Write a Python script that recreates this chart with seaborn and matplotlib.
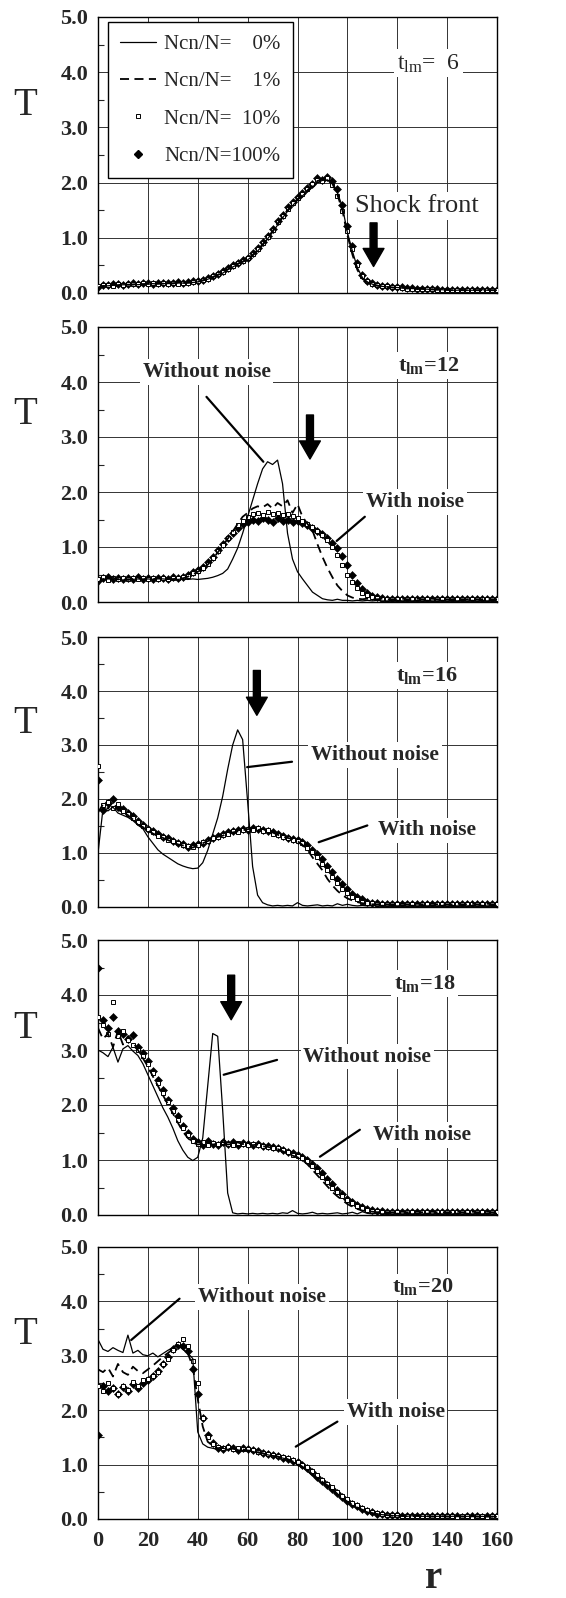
import numpy as np
import pandas as pd
import seaborn as sns
import matplotlib.pyplot as plt
from matplotlib.lines import Line2D

# radial positions (every 2 units) shared by all curves
R = list(range(0, 161, 2))

# ---- t_lm = 6 ----
T6_0 = [0.08,0.12,0.13,0.14,0.14,0.15,0.15,0.16,0.15,0.16,
        0.16,0.17,0.16,0.17,0.17,0.18,0.18,0.18,0.18,0.19,
        0.20,0.22,0.25,0.28,0.32,0.36,0.42,0.47,0.52,0.56,
        0.60,0.67,0.76,0.86,0.98,1.10,1.23,1.36,1.48,1.58,
        1.68,1.76,1.84,1.92,2.00,2.04,2.05,2.00,1.82,1.56,
        1.10,0.76,0.46,0.28,0.20,0.16,0.14,0.12,0.11,0.10,
        0.10,0.09,0.09,0.08,0.08,0.07,0.07,0.06,0.06,0.06,
        0.05,0.05,0.05,0.06,0.05,0.05,0.05,0.06,0.05,0.05,
        0.05]
T6_1 = [0.10,0.13,0.12,0.15,0.14,0.16,0.15,0.15,0.17,0.16,
        0.17,0.16,0.18,0.17,0.18,0.17,0.19,0.18,0.19,0.19,
        0.21,0.23,0.26,0.29,0.33,0.37,0.43,0.48,0.53,0.57,
        0.62,0.69,0.78,0.88,1.00,1.12,1.26,1.38,1.50,1.61,
        1.70,1.79,1.86,1.95,2.03,2.06,2.04,1.98,1.78,1.50,
        1.05,0.70,0.42,0.26,0.19,0.15,0.13,0.12,0.11,0.10,
        0.09,0.10,0.08,0.09,0.07,0.08,0.06,0.07,0.06,0.06,
        0.06,0.05,0.06,0.05,0.05,0.06,0.05,0.05,0.06,0.05,
        0.05]
T6_10 = [0.12,0.14,0.15,0.13,0.16,0.15,0.17,0.16,0.16,0.18,
         0.16,0.18,0.17,0.18,0.16,0.19,0.17,0.19,0.18,0.20,
         0.21,0.24,0.26,0.30,0.34,0.38,0.44,0.49,0.54,0.58,
         0.63,0.70,0.80,0.90,1.02,1.15,1.28,1.40,1.52,1.63,
         1.72,1.80,1.88,1.97,2.05,2.02,2.08,1.96,1.76,1.48,
         1.12,0.80,0.50,0.30,0.21,0.17,0.14,0.12,0.12,0.10,
         0.10,0.09,0.08,0.08,0.08,0.07,0.07,0.07,0.06,0.06,
         0.05,0.06,0.05,0.05,0.06,0.05,0.06,0.05,0.05,0.05,
         0.05]
T6_100 = [0.11,0.15,0.14,0.16,0.17,0.15,0.17,0.18,0.16,0.18,
          0.19,0.17,0.19,0.18,0.19,0.18,0.20,0.19,0.20,0.21,
          0.22,0.24,0.27,0.31,0.35,0.40,0.45,0.50,0.55,0.60,
          0.64,0.72,0.82,0.92,1.04,1.16,1.30,1.42,1.55,1.65,
          1.74,1.82,1.90,1.98,2.08,2.04,2.10,2.02,1.88,1.60,
          1.22,0.86,0.55,0.32,0.22,0.18,0.15,0.13,0.12,0.11,
          0.10,0.10,0.09,0.09,0.08,0.08,0.07,0.07,0.07,0.06,
          0.06,0.06,0.06,0.05,0.06,0.06,0.05,0.06,0.05,0.06,
          0.05]

# ---- t_lm = 12 ----
T12_0 = [0.30,0.40,0.42,0.41,0.42,0.40,0.42,0.41,0.42,0.41,
         0.42,0.41,0.42,0.42,0.41,0.42,0.41,0.42,0.41,0.42,
         0.41,0.42,0.43,0.45,0.48,0.52,0.60,0.78,0.98,1.25,
         1.55,1.85,2.15,2.42,2.55,2.50,2.58,2.15,1.25,0.78,
         0.55,0.42,0.30,0.18,0.12,0.06,0.04,0.03,0.05,0.03,
         0.03,0.02,0.03,0.02,0.03,0.02,0.03,0.02,0.02,0.03,
         0.03,0.02,0.03,0.02,0.03,0.02,0.03,0.02,0.02,0.03,
         0.02,0.03,0.02,0.03,0.02,0.03,0.02,0.03,0.02,0.03,
         0.02]
T12_1 = [0.35,0.42,0.40,0.44,0.41,0.43,0.40,0.42,0.44,0.41,
         0.43,0.41,0.44,0.42,0.43,0.41,0.44,0.43,0.46,0.50,
         0.55,0.60,0.68,0.78,0.90,1.02,1.15,1.28,1.42,1.55,
         1.62,1.70,1.74,1.72,1.78,1.70,1.80,1.74,1.85,1.62,
         1.78,1.55,1.42,1.30,1.05,0.82,0.62,0.45,0.30,0.20,
         0.12,0.08,0.06,0.05,0.06,0.05,0.05,0.06,0.05,0.05,
         0.05,0.06,0.05,0.05,0.06,0.05,0.05,0.06,0.05,0.05,
         0.05,0.05,0.06,0.05,0.05,0.06,0.05,0.05,0.06,0.05,
         0.05]
T12_10 = [0.42,0.45,0.40,0.43,0.42,0.44,0.41,0.43,0.42,0.44,
          0.42,0.43,0.41,0.44,0.42,0.43,0.44,0.45,0.48,0.52,
          0.56,0.62,0.70,0.80,0.92,1.04,1.16,1.28,1.40,1.48,
          1.55,1.60,1.62,1.58,1.64,1.60,1.62,1.58,1.60,1.56,
          1.52,1.48,1.42,1.36,1.30,1.22,1.12,1.00,0.85,0.68,
          0.50,0.36,0.25,0.17,0.12,0.09,0.07,0.06,0.06,0.05,
          0.06,0.05,0.06,0.05,0.05,0.06,0.05,0.06,0.05,0.05,
          0.05,0.06,0.05,0.05,0.06,0.05,0.05,0.06,0.05,0.05,
          0.05]
T12_100 = [0.40,0.43,0.45,0.42,0.44,0.41,0.43,0.42,0.45,0.42,
           0.43,0.42,0.44,0.43,0.42,0.45,0.44,0.46,0.50,0.54,
           0.58,0.64,0.72,0.82,0.94,1.05,1.16,1.26,1.35,1.42,
           1.46,1.50,1.48,1.52,1.50,1.46,1.52,1.48,1.50,1.46,
           1.48,1.44,1.40,1.35,1.30,1.24,1.16,1.08,0.98,0.84,
           0.68,0.50,0.35,0.24,0.16,0.11,0.09,0.07,0.06,0.06,
           0.06,0.05,0.06,0.06,0.05,0.06,0.05,0.05,0.06,0.05,
           0.05,0.06,0.05,0.06,0.05,0.05,0.06,0.05,0.05,0.06,
           0.05]

# ---- t_lm = 16 ----
T16_0 = [1.00,1.82,1.78,1.85,1.74,1.70,1.66,1.60,1.52,1.45,
         1.30,1.18,1.06,0.98,0.92,0.86,0.80,0.76,0.73,0.71,
         0.72,0.82,1.05,1.35,1.65,2.05,2.55,3.00,3.28,3.10,
         1.95,0.75,0.22,0.08,0.04,0.02,0.03,0.02,0.03,0.02,
         0.08,0.03,0.02,0.03,0.04,0.02,0.03,0.02,0.06,0.03,
         0.05,0.03,0.02,0.03,0.02,0.03,0.02,0.03,0.02,0.03,
         0.02,0.03,0.02,0.03,0.02,0.03,0.02,0.03,0.02,0.03,
         0.02,0.03,0.02,0.03,0.02,0.03,0.02,0.03,0.02,0.03,
         0.02]
T16_1 = [1.75,1.90,1.82,1.95,1.80,1.76,1.70,1.62,1.52,1.48,
         1.42,1.36,1.32,1.28,1.24,1.20,1.16,1.14,1.12,1.10,
         1.14,1.18,1.22,1.26,1.30,1.32,1.36,1.38,1.40,1.42,
         1.44,1.46,1.42,1.45,1.40,1.38,1.34,1.30,1.28,1.26,
         1.22,1.15,1.06,0.92,0.80,0.68,0.52,0.40,0.30,0.22,
         0.16,0.12,0.09,0.07,0.06,0.05,0.05,0.06,0.05,0.05,
         0.05,0.06,0.05,0.05,0.06,0.05,0.05,0.06,0.05,0.05,
         0.05,0.05,0.06,0.05,0.05,0.06,0.05,0.05,0.06,0.05,
         0.05]
T16_10 = [2.62,1.88,1.95,1.84,1.90,1.78,1.72,1.64,1.58,1.50,
          1.44,1.38,1.32,1.30,1.25,1.22,1.18,1.15,1.13,1.12,
          1.15,1.20,1.22,1.28,1.30,1.34,1.36,1.40,1.38,1.42,
          1.44,1.42,1.46,1.40,1.42,1.36,1.34,1.30,1.28,1.25,
          1.22,1.18,1.10,1.02,0.92,0.80,0.68,0.56,0.44,0.34,
          0.26,0.19,0.14,0.10,0.08,0.07,0.06,0.06,0.05,0.05,
          0.06,0.05,0.05,0.06,0.05,0.05,0.06,0.05,0.05,0.06,
          0.05,0.05,0.06,0.05,0.05,0.06,0.05,0.05,0.05,0.06,
          0.05]
T16_100 = [2.35,1.80,1.92,2.00,1.85,1.82,1.75,1.68,1.60,1.52,
           1.45,1.40,1.35,1.30,1.27,1.22,1.18,1.16,1.12,1.14,
           1.16,1.18,1.24,1.28,1.32,1.35,1.38,1.40,1.42,1.44,
           1.42,1.46,1.44,1.42,1.40,1.38,1.35,1.32,1.28,1.26,
           1.24,1.20,1.14,1.06,0.98,0.88,0.76,0.64,0.52,0.42,
           0.33,0.25,0.19,0.14,0.10,0.08,0.07,0.06,0.06,0.05,
           0.06,0.06,0.05,0.06,0.05,0.06,0.05,0.06,0.05,0.05,
           0.06,0.05,0.06,0.05,0.05,0.06,0.05,0.06,0.05,0.05,
           0.05]

# ---- t_lm = 18 ----
T18_0 = [3.00,2.95,2.88,3.05,2.78,3.02,3.08,2.98,2.90,2.75,
         2.55,2.35,2.15,1.95,1.78,1.58,1.35,1.18,1.05,0.99,
         1.05,1.40,2.35,3.30,3.25,1.90,0.40,0.04,0.02,0.03,
         0.02,0.03,0.02,0.03,0.02,0.03,0.02,0.04,0.03,0.08,
         0.03,0.02,0.03,0.05,0.02,0.03,0.02,0.03,0.04,0.02,
         0.03,0.05,0.02,0.06,0.03,0.02,0.03,0.02,0.03,0.02,
         0.03,0.02,0.03,0.02,0.03,0.02,0.03,0.02,0.03,0.02,
         0.03,0.02,0.03,0.02,0.03,0.02,0.03,0.02,0.03,0.02,
         0.03]
T18_1 = [3.40,3.20,3.30,3.05,3.35,3.10,3.25,3.15,3.00,2.85,
         2.70,2.52,2.35,2.18,2.02,1.85,1.68,1.52,1.40,1.32,
         1.28,1.30,1.32,1.28,1.30,1.33,1.28,1.30,1.32,1.29,
         1.30,1.27,1.28,1.25,1.24,1.22,1.20,1.16,1.12,1.08,
         1.05,1.00,0.92,0.82,0.72,0.62,0.52,0.42,0.34,0.27,
         0.20,0.15,0.11,0.08,0.07,0.06,0.05,0.06,0.05,0.05,
         0.05,0.06,0.05,0.05,0.06,0.05,0.05,0.06,0.05,0.05,
         0.05,0.05,0.06,0.05,0.05,0.06,0.05,0.05,0.06,0.05,
         0.05]
T18_10 = [3.60,3.45,3.30,3.88,3.25,3.35,3.18,3.10,3.00,2.90,
          2.75,2.58,2.40,2.22,2.06,1.90,1.72,1.58,1.45,1.35,
          1.30,1.32,1.28,1.31,1.29,1.32,1.30,1.28,1.31,1.30,
          1.28,1.30,1.27,1.26,1.24,1.22,1.21,1.18,1.14,1.10,
          1.08,1.04,0.98,0.90,0.80,0.70,0.60,0.50,0.41,0.34,
          0.27,0.21,0.16,0.12,0.10,0.08,0.07,0.06,0.06,0.05,
          0.06,0.05,0.05,0.06,0.05,0.05,0.06,0.05,0.05,0.06,
          0.05,0.05,0.06,0.05,0.05,0.06,0.05,0.05,0.05,0.06,
          0.05]
T18_100 = [4.50,3.55,3.40,3.60,3.35,3.30,3.20,3.28,3.05,2.95,
           2.80,2.62,2.45,2.28,2.10,1.95,1.80,1.62,1.50,1.38,
           1.32,1.28,1.34,1.30,1.27,1.32,1.30,1.33,1.28,1.31,
           1.30,1.28,1.30,1.26,1.25,1.24,1.22,1.19,1.15,1.12,
           1.10,1.06,1.00,0.93,0.85,0.76,0.66,0.56,0.46,0.38,
           0.30,0.24,0.18,0.14,0.11,0.09,0.08,0.07,0.06,0.06,
           0.06,0.06,0.05,0.06,0.05,0.06,0.05,0.06,0.05,0.05,
           0.06,0.05,0.06,0.05,0.05,0.06,0.05,0.06,0.05,0.05,
           0.05]

# ---- t_lm = 20 ----
T20_0 = [3.30,3.12,3.08,3.15,3.10,3.06,3.38,3.05,3.10,3.02,
         3.00,3.05,2.98,3.04,3.10,3.15,3.20,3.12,3.05,2.95,
         1.60,1.38,1.32,1.30,1.28,1.30,1.28,1.29,1.27,1.26,
         1.25,1.24,1.22,1.20,1.18,1.16,1.14,1.12,1.10,1.05,
         1.00,0.95,0.88,0.80,0.72,0.66,0.60,0.52,0.44,0.36,
         0.30,0.25,0.20,0.16,0.13,0.10,0.09,0.08,0.07,0.06,
         0.06,0.05,0.05,0.06,0.05,0.05,0.05,0.04,0.05,0.05,
         0.04,0.05,0.05,0.04,0.05,0.05,0.04,0.05,0.04,0.05,
         0.04]
T20_1 = [2.75,2.70,2.78,2.62,2.85,2.70,2.65,2.80,2.72,2.68,
         2.75,2.82,2.90,2.98,3.05,3.12,3.20,3.15,3.05,2.80,
         2.20,1.70,1.42,1.35,1.30,1.32,1.28,1.30,1.27,1.28,
         1.26,1.25,1.23,1.21,1.18,1.16,1.15,1.12,1.10,1.06,
         1.02,0.96,0.90,0.82,0.75,0.68,0.62,0.55,0.46,0.38,
         0.32,0.26,0.21,0.17,0.14,0.11,0.09,0.08,0.07,0.06,
         0.06,0.06,0.05,0.05,0.06,0.05,0.05,0.05,0.04,0.05,
         0.05,0.04,0.05,0.05,0.04,0.05,0.05,0.04,0.05,0.04,
         0.05]
T20_10 = [2.45,2.35,2.50,2.40,2.30,2.45,2.38,2.52,2.44,2.55,
          2.58,2.62,2.70,2.85,2.95,3.10,3.22,3.30,3.18,2.90,
          2.50,1.85,1.50,1.38,1.32,1.30,1.33,1.29,1.31,1.28,
          1.28,1.26,1.24,1.22,1.20,1.18,1.16,1.14,1.12,1.08,
          1.05,1.00,0.95,0.88,0.80,0.72,0.65,0.58,0.50,0.42,
          0.36,0.30,0.25,0.20,0.16,0.13,0.11,0.09,0.08,0.07,
          0.07,0.06,0.06,0.05,0.06,0.05,0.05,0.06,0.05,0.05,
          0.05,0.05,0.04,0.05,0.05,0.04,0.05,0.05,0.04,0.05,
          0.05]
T20_100 = [1.55,2.45,2.35,2.40,2.30,2.42,2.36,2.48,2.40,2.50,
           2.55,2.62,2.72,2.85,2.98,3.12,3.20,3.18,3.08,2.75,
           2.30,1.85,1.55,1.40,1.30,1.28,1.32,1.30,1.27,1.30,
           1.28,1.27,1.25,1.22,1.20,1.18,1.16,1.13,1.10,1.07,
           1.04,1.00,0.94,0.86,0.78,0.70,0.63,0.56,0.48,0.40,
           0.34,0.28,0.23,0.19,0.15,0.12,0.10,0.09,0.08,0.07,
           0.07,0.06,0.06,0.06,0.05,0.06,0.05,0.05,0.06,0.05,
           0.05,0.05,0.05,0.04,0.05,0.05,0.05,0.04,0.05,0.05,
           0.05]

TIMES = ["6", "12", "16", "18", "20"]
SERIES = [(T6_0, T6_1, T6_10, T6_100),
          (T12_0, T12_1, T12_10, T12_100),
          (T16_0, T16_1, T16_10, T16_100),
          (T18_0, T18_1, T18_10, T18_100),
          (T20_0, T20_1, T20_10, T20_100)]
LEGEND_LABELS = ["Ncn/N=    0%", "Ncn/N=    1%", "Ncn/N=  10%", "Ncn/N=100%"]

for grp in SERIES:
    for s in grp:
        assert len(s) == len(R), len(s)

sns.set_style("white")
plt.rcParams['font.family'] = ['Liberation Serif', 'DejaVu Serif']
plt.rcParams['mathtext.fontset'] = 'custom'
plt.rcParams['mathtext.rm'] = 'Liberation Serif'
plt.rcParams['mathtext.it'] = 'Liberation Serif:italic'
plt.rcParams['mathtext.bf'] = 'Liberation Serif:bold'
plt.rcParams['lines.dashed_pattern'] = [5, 3]

W, H = 566, 1598
fig = plt.figure(figsize=(W / 100, H / 100), dpi=100)
tops = [17, 327, 637, 940, 1247]
bots = [293, 602, 907, 1215, 1519]
left, width = 98, 399

# annotation layout per panel: (text, x, y, line from, line to)
notes = {
    1: [("Without noise", 43.5, 4.18, (43.5, 3.73), (66.3, 2.55)),
        ("With noise", 127, 1.82, (107, 1.55), (95.7, 1.11))],
    2: [("Without noise", 111, 2.81, (77.8, 2.69), (59.8, 2.59)),
        ("With noise", 132, 1.42, (108, 1.51), (88.5, 1.20))],
    3: [("Without noise", 108, 2.88, (71.8, 2.82), (50.4, 2.55)),
        ("With noise", 130, 1.45, (105, 1.55), (89, 1.06))],
    4: [("Without noise", 65.7, 4.08, (32.7, 4.05), (13.3, 3.29)),
        ("With noise", 119.3, 1.97, (96, 1.79), (79.3, 1.33))],
}
arrows = {0: (110.5, 1.27, 0.48), 1: (85, 3.4, 2.6), 2: (63.7, 4.38, 3.55), 3: (53.4, 4.36, 3.55)}
tpos = [(132.5, 4.16), (132.5, 4.3), (132, 4.29), (131, 4.21), (130.3, 4.27)]
box = dict(facecolor='white', edgecolor='none', pad=2)

for i, (tl, (s0, s1, s10, s100)) in enumerate(zip(TIMES, SERIES)):
    ax = fig.add_axes([left / W, 1 - bots[i] / H, width / W, (bots[i] - tops[i]) / H])

    sns.lineplot(x=R, y=s100, ax=ax, color='k', linestyle='', marker='D', markersize=4.2,
                 markerfacecolor='k', markeredgecolor='k', markeredgewidth=0.4, errorbar=None, zorder=3)
    sns.lineplot(x=R, y=s10, ax=ax, color='k', linestyle='', marker='s', markersize=3.4,
                 markerfacecolor='white', markeredgecolor='k', markeredgewidth=0.7, errorbar=None, zorder=4)
    sns.lineplot(x=R, y=s1, ax=ax, color='k', linestyle='--', lw=1.3, errorbar=None, zorder=5)
    sns.lineplot(x=R, y=s0, ax=ax, color='k', lw=0.9, errorbar=None, zorder=6)

    ax.set_xlim(0, 160)
    ax.set_ylim(0, 5)
    ax.set_xticks(range(0, 161, 20))
    ax.set_yticks([0, 1, 2, 3, 4, 5])
    ax.set_yticklabels([f"{v:.1f}" for v in range(6)], fontsize=16, fontweight='bold')
    ax.set_yticks([0.5, 1.5, 2.5, 3.5, 4.5], minor=True)
    ax.grid(True, which='major', color='0.2', lw=0.7)
    ax.set_axisbelow(True)
    ax.tick_params(which='major', length=0, pad=7)
    ax.tick_params(axis='y', which='minor', direction='in', length=4, width=0.8, left=True)
    for sp in ax.spines.values():
        sp.set_color('k')
        sp.set_linewidth(1.0)
    ax.set_xlabel("")
    ax.set_ylabel("")
    if i == 4:
        ax.set_xticklabels([str(v) for v in range(0, 161, 20)], fontsize=16, fontweight='bold')
        ax.tick_params(axis='x', pad=9)
    else:
        ax.tick_params(axis='x', labelbottom=False)

    ax.text(-0.183, 0.68, "T", transform=ax.transAxes, fontsize=28, ha='center', va='center')

    if i == 0:
        ax.text(tpos[i][0], tpos[i][1], r"$\mathrm{t_{lm}}$=  " + tl, fontsize=17,
                ha='center', va='center', bbox=box, zorder=7)
        ax.text(128, 1.57, "Shock front", fontsize=19, ha='center', va='center', bbox=box, zorder=7)
        handles = [Line2D([], [], color='k', lw=0.9),
                   Line2D([], [], color='k', lw=1.3, ls='--'),
                   Line2D([], [], ls='', marker='s', ms=3.5, mfc='white', mec='k', mew=0.7),
                   Line2D([], [], ls='', marker='D', ms=4, color='k')]
        leg = ax.legend(handles, LEGEND_LABELS, loc='upper left', bbox_to_anchor=(0.025, 0.982),
                        frameon=True, fancybox=False, edgecolor='k', framealpha=1, fontsize=15,
                        handlelength=1.7, labelspacing=0.85, borderpad=0.6, borderaxespad=0,
                        handletextpad=0.4)
        leg.get_frame().set_linewidth(1.0)
        leg.set_zorder(8)
    else:
        ax.text(tpos[i][0], tpos[i][1], r"$\mathbf{t_{lm}}$=" + tl, fontsize=16, fontweight='bold',
                ha='center', va='center', bbox=box, zorder=7)
        for txt, tx, ty, p0, p1 in notes[i]:
            ax.text(tx, ty, txt, fontsize=15.5, fontweight='bold', ha='center', va='center',
                    bbox=box, zorder=7)
            ax.plot([p0[0], p1[0]], [p0[1], p1[1]], color='k', lw=1.6, zorder=7)

    if i in arrows:
        ax_x, y0, y1 = arrows[i]
        ax.annotate('', xy=(ax_x, y1), xytext=(ax_x, y0),
                    arrowprops=dict(facecolor='k', edgecolor='k', width=5, headwidth=15,
                                    headlength=13, shrink=0), zorder=8)

fig.text(434 / W, 1 - 1578 / H, "r", fontsize=28, fontweight='bold', ha='center', va='center')

fig.savefig("out.png", dpi=100)
plt.close(fig)
